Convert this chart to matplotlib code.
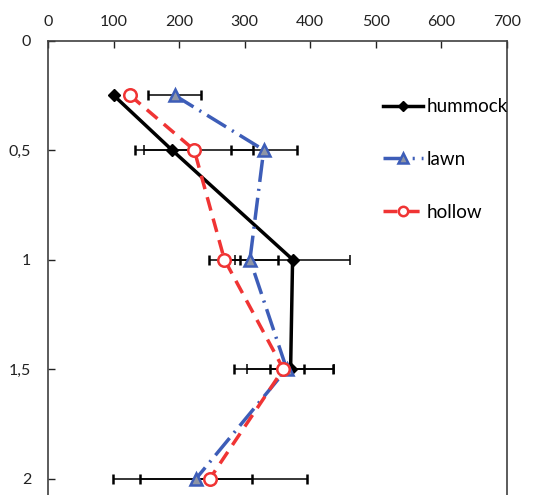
import matplotlib
matplotlib.use("Agg")
import matplotlib.pyplot as plt
from matplotlib.ticker import FixedLocator, FuncFormatter

# Depth (y) and values (x) with horizontal error bars
hummock_depth = [0.25, 0.5, 1.0, 1.5]
hummock_val = [100, 189, 373, 370]
hummock_err = [0, 42, 88, 66]

lawn_depth = [0.25, 0.5, 1.0, 1.5, 2.0]
lawn_val = [193, 329, 308, 364, 226]
lawn_err = [41, 50, 43, 26, 85]

hollow_depth = [0.25, 0.5, 1.0, 1.5, 2.0]
hollow_val = [125, 223, 269, 359, 247]
hollow_err = [0, 90, 24, 76, 148]

x_ticks = [0, 100, 200, 300, 400, 500, 600, 700]
y_ticks = [0, 0.5, 1.0, 1.5, 2.0]
y_labels = ["0", "0,5", "1", "1,5", "2"]

plt.rcParams["font.family"] = ["Lato", "DejaVu Sans"]

W, H = 541, 495
fig = plt.figure(figsize=(W / 100, H / 100), dpi=100)

ymax = 2.1
top_px, left_px, right_px = 40.5, 48, 507
px_per_unit = (478.5 - top_px) / 2.0
height_px = ymax * px_per_unit
ax = fig.add_axes([left_px / W, 1 - (top_px + height_px) / H,
                   (right_px - left_px) / W, height_px / H])

lw = 2.5
err_kw = dict(ecolor="black", elinewidth=1.1, capsize=3.5, capthick=1.1)

c1 = ax.errorbar(hummock_val, hummock_depth, xerr=hummock_err, color="black",
                 lw=lw, marker="D", ms=6.5, mfc="black", mec="black",
                 label="hummock", zorder=3, **err_kw)

c2 = ax.errorbar(lawn_val, lawn_depth, xerr=lawn_err, color="#3D5DB8",
                 lw=lw, dashes=(6.4, 2.0, 0.6, 2.0), marker="^", ms=9,
                 mfc="#8E95A6", mec="#3D5DB8", mew=1.8,
                 label="lawn", zorder=3, **err_kw)

c3 = ax.errorbar(hollow_val, hollow_depth, xerr=hollow_err, color="#F03434",
                 lw=lw, dashes=(4.0, 2.4), marker="o", ms=9,
                 mfc="white", mec="#F03434", mew=1.8,
                 label="hollow", zorder=3, **err_kw)

ax.set_xlim(0, 700)
ax.set_ylim(ymax, 0)
ax.xaxis.tick_top()
ax.xaxis.set_major_locator(FixedLocator(x_ticks))
ax.yaxis.set_major_locator(FixedLocator(y_ticks))
ax.yaxis.set_major_formatter(FuncFormatter(lambda v, p: y_labels[y_ticks.index(round(v, 2))]
                                            if round(v, 2) in y_ticks else ""))
ax.tick_params(axis="x", direction="in", length=5, width=1, pad=8,
               labelsize=11.5, colors="#222222")
ax.tick_params(axis="y", direction="in", length=5, width=1, pad=12,
               labelsize=11.5, colors="#222222")
ax.tick_params(right=False, bottom=False)
for side in ["top", "left", "right"]:
    ax.spines[side].set_color("#404040")
    ax.spines[side].set_linewidth(1.2)
ax.spines["bottom"].set_visible(False)

handles = [c1[0], c2[0], c3[0]]
leg = ax.legend(handles=handles, labels=["hummock", "lawn", "hollow"],
                loc="upper left", bbox_to_anchor=(374 / W, 1 - 89 / H),
                bbox_transform=fig.transFigure, frameon=False,
                fontsize=13.5, handlelength=2.1, handletextpad=0.22,
                labelspacing=1.9, borderpad=0, markerscale=0.75)

fig.savefig("out.png", dpi=100)
